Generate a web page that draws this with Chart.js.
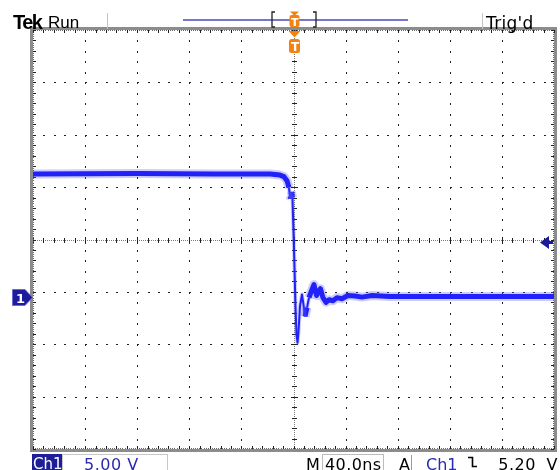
<!DOCTYPE html>
<html>
<head>
<meta charset="utf-8">
<script src="https://cdn.jsdelivr.net/npm/chart.js@4.4.0/dist/chart.umd.min.js"></script>
<style>
  html, body { margin: 0; padding: 0; background: #fff; }
  #scope { position: relative; width: 560px; height: 470px; overflow: hidden; font-family: "DejaVu Sans", sans-serif; }
  #scope canvas { position: absolute; left: 0; top: 0; }
  .lbl { position: absolute; white-space: nowrap; line-height: 1; }
  .box { position: absolute; box-sizing: border-box; }
</style>
</head>
<body>
<div id="scope">
  <canvas id="chartScope" width="560" height="470"></canvas>

  <!-- cabecalho -->
  <span class="lbl" style="left:13px; top:11px; font: bold 20px 'Liberation Sans', sans-serif; letter-spacing:-1.5px; color:#000;">Tek</span>
  <span class="lbl" style="left:48px; top:13px; font: 17px 'Liberation Sans', sans-serif; color:#000;">Run</span>
  <span class="lbl" style="left:486px; top:13px; font: 17px 'DejaVu Sans', sans-serif; letter-spacing:0.3px; color:#000;">Trig'd</span>

  <!-- barra de status -->
  <div class="box" style="left:32px; top:454px; width:30px; height:16px; background:#1e1e96;"></div>
  <span class="lbl" style="left:33px; top:455px; font: 15px 'DejaVu Sans', sans-serif; color:#fff;">Ch1</span>
  <div class="box" style="left:62px; top:454px; width:106px; height:17px; border:1px solid #c8c8c8;"></div>
  <span class="lbl" style="left:84px; top:455px; font: 16px 'DejaVu Sans', sans-serif; letter-spacing:0.5px; color:#2a2ab0;">5.00 V</span>
  <span class="lbl" style="left:306px; top:455px; font: 16px 'DejaVu Sans', sans-serif; color:#000;">M</span>
  <div class="box" style="left:322px; top:454px; width:62px; height:17px; border:1px solid #bcbcbc;"></div>
  <span class="lbl" style="left:325px; top:455px; font: 16px 'DejaVu Sans', sans-serif; letter-spacing:0.4px; color:#000;">40.0ns</span>
  <span class="lbl" style="left:399px; top:455px; font: 16px 'DejaVu Sans', sans-serif; color:#000;">A</span>
  <div class="box" style="left:411px; top:455px; width:1px; height:15px; background:#9a9a9a;"></div>
  <span class="lbl" style="left:426px; top:455px; font: 16px 'DejaVu Sans', sans-serif; color:#2a2ab0;">Ch1</span>
  <svg class="box" style="left:464px; top:454px;" width="16" height="16">
    <polyline points="4,3.5 8.5,3.5 8.5,12.5 13,12.5" fill="none" stroke="#000" stroke-width="1.6"/>
  </svg>
  <span class="lbl" style="right:2px; top:455px; font: 16px 'DejaVu Sans', sans-serif; letter-spacing:0.5px; word-spacing:5px; color:#000;">5.20 V</span>

  <!-- marcadores -->
  <span class="lbl" id="lblGnd" style="font: bold 13px 'DejaVu Sans', sans-serif; color:#fff;">1</span>
  <span class="lbl" id="lblTrig" style="font: bold 12px 'DejaVu Sans', sans-serif; color:#fff;">T</span>
  <span class="lbl" id="lblTrigTop" style="font: bold 11px 'DejaVu Sans', sans-serif; color:#fff;">T</span>
</div>

<script>
// ==================== DADOS DO CANAL 1 ====================
const timeNs = [-200, -120, -60, -18, -10.4, -7.3, -5.0, -3.5, -2.7, -2.1, -1.5, -0.8, 0, 0.8, 1.5, 2.3, 3.1, 3.8,
  5.0, 6.5, 7.7, 8.8, 10.4, 11.9, 13.4, 15.7, 17.7, 18.8, 20.7, 22.6, 25.0, 27.3, 30.3, 33.4, 37.2, 41.8,
  47.2, 52.6, 60.3, 74, 120, 200];
const ch1Volts = [11.7, 11.75, 11.7, 11.7, 11.6, 11.45, 11.07, 10.4, 9.6, 9.35, 10.0, 9.45, 6.2, 2.6, -0.8, -3.6, -4.4, -3.4,
  -0.9, 0.2, -0.8, -1.9, -1.05, -0.1, 0.4, 1.15, 0.1, 0.4, 0.75, -0.1, -0.55, -0.3, -0.4, -0.1, -0.2, 0.1,
  0.05, -0.05, 0.1, 0, 0, 0];

const nsPerDiv = 40;
const voltsPerDiv = 5;
const ch1OffsetDiv = 1.09;   // terra abaixo do centro (div)
const trigLevel = 5.2;

const xMin = -5 * nsPerDiv, xMax = 5 * nsPerDiv;
const yCenter = ch1OffsetDiv * voltsPerDiv;
const yMin = yCenter - 4 * voltsPerDiv, yMax = yCenter + 4 * voltsPerDiv;

const pontos = timeNs.map((t, i) => ({ x: t, y: ch1Volts[i] }));

const isSteep = c => Math.abs(c.p1.y - c.p0.y) > 3 * Math.abs(c.p1.x - c.p0.x) + 4;

// ==================== GRATICULA ====================
const graticule = {
  id: 'graticule',
  beforeDatasetsDraw(chart) {
    const { ctx, chartArea: a, scales: { x, y } } = chart;
    ctx.save();
    const xs = [], ys = [];
    for (let i = 0; i <= 50; i++) xs.push(Math.round(x.getPixelForValue(xMin + i * nsPerDiv / 5)));
    for (let j = 0; j <= 40; j++) ys.push(Math.round(y.getPixelForValue(yMin + j * voltsPerDiv / 5)));
    const cx = xs[25], cy = ys[20];

    // linhas maiores pontilhadas
    ctx.fillStyle = '#202020';
    for (let k = 1; k < 10; k++) {
      if (k === 5) continue;
      ys.forEach(py => ctx.fillRect(xs[k * 5], py, 1, 2));
    }
    for (let k = 1; k < 8; k++) {
      if (k === 4) continue;
      xs.forEach(px => ctx.fillRect(px, ys[k * 5], 2, 1));
    }

    // eixos centrais
    ctx.fillStyle = '#7a7a7a';
    for (let px = a.left; px < a.right; px += 2) ctx.fillRect(Math.round(px), cy, 1, 1);
    for (let py = a.top; py < a.bottom; py += 2) ctx.fillRect(cx, Math.round(py), 1, 1);
    ctx.fillStyle = '#202020';
    xs.forEach((px, i) => { const h = i % 5 === 0 ? 3 : 2; ctx.fillRect(px, cy - h, 1, 2 * h + 1); });
    ys.forEach((py, j) => { const h = j % 5 === 0 ? 3 : 2; ctx.fillRect(cx - h, py, 2 * h + 1, 1); });

    // moldura
    ctx.strokeStyle = '#8c8c8c';
    ctx.lineWidth = 3;
    ctx.strokeRect(a.left - 1.5, a.top - 1.5, a.right - a.left + 3, a.bottom - a.top + 3);
    ctx.fillStyle = '#6a6a6a';
    for (let px = a.left; px < a.right; px += 2.08) {
      ctx.fillRect(Math.round(px), a.top, 1, 1);
      ctx.fillRect(Math.round(px), a.bottom - 1, 1, 1);
    }
    for (let py = a.top; py < a.bottom; py += 2.09) {
      ctx.fillRect(a.left, Math.round(py), 1, 1);
      ctx.fillRect(a.right - 1, Math.round(py), 1, 1);
    }
    ctx.fillStyle = '#202020';
    xs.forEach(px => {
      ctx.fillRect(px, a.top, 1, 3);
      ctx.fillRect(px, a.bottom - 3, 1, 3);
    });
    ys.forEach(py => {
      ctx.fillRect(a.left, py, 3, 1);
      ctx.fillRect(a.right - 3, py, 3, 1);
    });
    ctx.restore();
  },
  afterDraw(chart) {
    const { ctx, chartArea: a, scales: { x, y } } = chart;
    const cx = Math.round(x.getPixelForValue(0));
    const gy = Math.round(y.getPixelForValue(0));
    const ty = Math.round(y.getPixelForValue(trigLevel));
    const laranja = '#f5820f';
    ctx.save();

    // cabecalho: registro
    ctx.strokeStyle = '#c4c4c4';
    ctx.lineWidth = 1;
    ctx.beginPath();
    ctx.moveTo(107.5, 13); ctx.lineTo(107.5, 29);
    ctx.moveTo(482.5, 13); ctx.lineTo(482.5, 29);
    ctx.stroke();
    ctx.strokeStyle = '#4a4ab8';
    ctx.lineWidth = 1.5;
    ctx.beginPath(); ctx.moveTo(183, 20); ctx.lineTo(408, 20); ctx.stroke();
    ctx.strokeStyle = '#222';
    ctx.lineWidth = 1.3;
    ctx.beginPath();
    ctx.moveTo(275, 12); ctx.lineTo(272, 12); ctx.lineTo(272, 27); ctx.lineTo(275, 27);
    ctx.moveTo(313, 12); ctx.lineTo(316, 12); ctx.lineTo(316, 27); ctx.lineTo(313, 27);
    ctx.stroke();

    ctx.fillStyle = laranja;
    ctx.beginPath();
    ctx.moveTo(cx - 4, 11.5); ctx.lineTo(cx + 5, 11.5); ctx.lineTo(cx + 0.5, 16); ctx.closePath(); ctx.fill();
    ctx.beginPath(); ctx.roundRect(cx - 4.5, 15, 10, 12, 2); ctx.fill();

    // marcador de trigger (tempo)
    ctx.beginPath();
    ctx.moveTo(cx - 5.5, a.top + 1); ctx.lineTo(cx + 6.5, a.top + 1); ctx.lineTo(cx + 0.5, a.top + 7.5); ctx.closePath(); ctx.fill();
    ctx.beginPath(); ctx.roundRect(cx - 5, a.top + 9, 11, 14, 2.5); ctx.fill();

    // nivel de trigger
    ctx.fillStyle = '#1a1a9a';
    ctx.beginPath();
    ctx.moveTo(a.right - 14, ty + 0.5); ctx.lineTo(a.right - 5, ty - 6); ctx.lineTo(a.right - 5, ty + 7); ctx.closePath(); ctx.fill();
    ctx.fillRect(a.right - 6, ty - 1, 5, 3);

    // terra do canal 1
    ctx.fillStyle = '#1c1c9c';
    ctx.strokeStyle = '#6a6ad0';
    ctx.lineWidth = 1;
    ctx.beginPath();
    ctx.moveTo(12.5, gy - 7.5); ctx.lineTo(25, gy - 7.5); ctx.lineTo(32.5, gy + 0.5);
    ctx.lineTo(25, gy + 8.5); ctx.lineTo(12.5, gy + 8.5); ctx.closePath();
    ctx.fill(); ctx.stroke();
    ctx.restore();

    const gnd = document.getElementById('lblGnd');
    gnd.style.left = '16px'; gnd.style.top = (gy - 6) + 'px';
    const tr = document.getElementById('lblTrig');
    tr.style.left = (cx - 3) + 'px'; tr.style.top = (a.top + 10) + 'px';
    const tt = document.getElementById('lblTrigTop');
    tt.style.left = (cx - 3) + 'px'; tt.style.top = '16px';
  }
};

// ==================== TRACO DO CANAL 1 ====================
const cxScope = document.getElementById('chartScope');
const chtScope = new Chart(cxScope, {
  type: 'line',
  data: {
    datasets: [
      {
        label: 'Ch1 halo',
        data: pontos,
        borderColor: 'rgba(90, 90, 255, 0.3)',
        borderWidth: 9,
        pointRadius: 0,
        tension: 0,
        borderJoinStyle: 'round',
        borderCapStyle: 'butt',
        segment: { borderWidth: c => isSteep(c) ? 4 : 9 },
      },
      {
        label: 'Ch1',
        data: pontos,
        borderColor: '#0a0af5',
        borderWidth: 5,
        pointRadius: 0,
        tension: 0,
        borderJoinStyle: 'round',
        borderCapStyle: 'butt',
        segment: { borderWidth: c => isSteep(c) ? 2 : 5 },
      },
    ]
  },
  options: {
    responsive: false,
    animation: false,
    events: [],
    layout: { padding: { left: 33, top: 30, right: 6, bottom: 21 } },
    scales: {
      x: { type: 'linear', min: xMin, max: xMax, display: false },
      y: { type: 'linear', min: yMin, max: yMax, display: false },
    },
    plugins: {
      legend: { display: false },
      title: { display: false },
      tooltip: { enabled: false },
    },
  },
  plugins: [graticule]
});
</script>
</body>
</html>
